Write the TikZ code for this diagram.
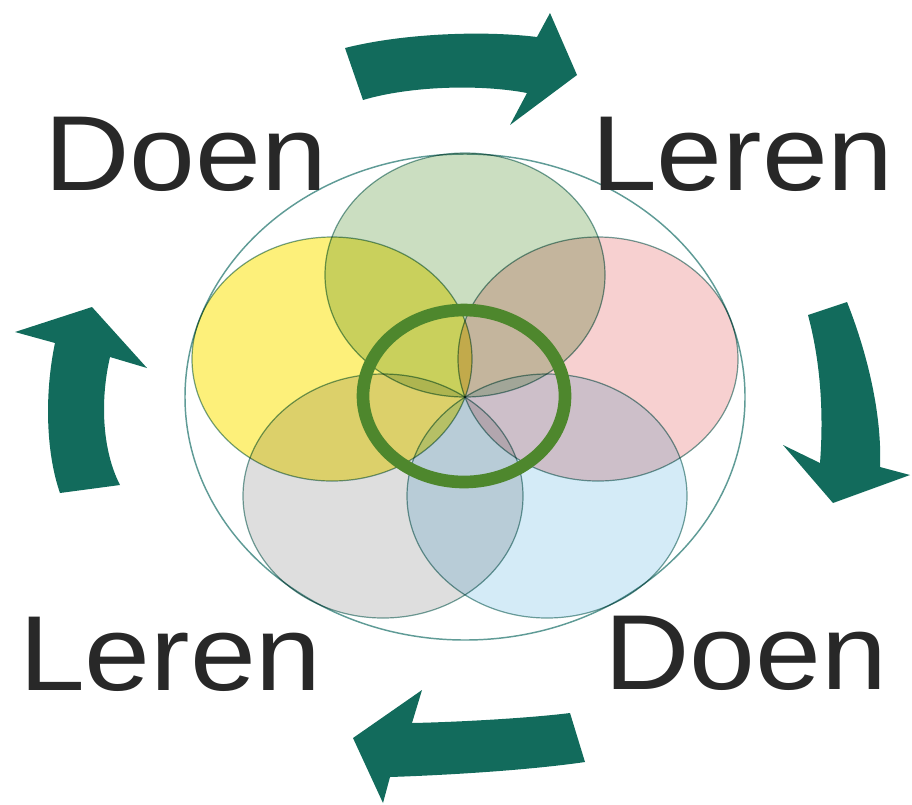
\documentclass[tikz,border=0pt]{standalone}
\usepackage{fontspec}
\setmainfont{Liberation Sans}
\usepackage{graphicx}
\definecolor{arrowteal}{RGB}{18,107,92}
\definecolor{txtgray}{RGB}{40,40,40}
\definecolor{petalline}{RGB}{115,162,156}
\definecolor{outerline}{RGB}{95,155,150}
\definecolor{ringgreen}{RGB}{78,135,45}
\definecolor{pgreen}{RGB}{203,222,193}
\definecolor{pyellow}{RGB}{253,240,122}
\definecolor{ppink}{RGB}{247,208,208}
\definecolor{pgray}{RGB}{222,222,222}
\definecolor{pblue}{RGB}{212,235,247}
\tikzset{
  petal/.style={draw=petalline, line width=0.9pt, blend mode=multiply},
  outerring/.style={draw=outerline, line width=1.1pt},
  centerring/.style={draw=ringgreen, line width=9.5pt},
  cyclearrow/.style={fill=arrowteal, draw=none},
  lbl/.style={anchor=base west, inner sep=0pt, outer sep=0pt, text=txtgray, font=\fontsize{80}{82}\selectfont}
}
\begin{document}
\begin{tikzpicture}[x=0.75pt,y=-0.75pt]
\useasboundingbox (0,0) rectangle (912,804);
% outer thin ellipse
\draw[outerring] (465,397) ellipse [x radius=280, y radius=243];
% five petals
\draw[petal, fill=pgreen]  (465,275) ellipse [x radius=140, y radius=122];
\draw[petal, fill=ppink]   (598,359) ellipse [x radius=140, y radius=122];
\draw[petal, fill=pblue]   (547,496) ellipse [x radius=140, y radius=122];
\draw[petal, fill=pgray]   (383,496) ellipse [x radius=140, y radius=122];
\draw[petal, fill=pyellow] (332,359) ellipse [x radius=140, y radius=122];
% center ring
\draw[centerring] (464,396) ellipse [x radius=101, y radius=86];
% arrows
\fill[cyclearrow] (345,48) .. controls (400,34) and (480,30) .. (537,37) -- (550,13) -- (577,75) -- (510,125) -- (527,93) .. controls (480,84) and (410,86) .. (363,100) -- cycle;
\fill[cyclearrow] (808,315) -- (847,302) .. controls (870,360) and (882,420) .. (880,467) -- (910,475) -- (833,503) -- (783,445) -- (820,463) .. controls (824,410) and (820,360) .. (808,315) -- cycle;
\fill[cyclearrow] (570,713) .. controls (530,718) and (460,722) .. (412,723) -- (422,690) -- (353,738) -- (383,803) -- (390,777) .. controls (450,775) and (530,770) .. (585,762) -- cycle;
\fill[cyclearrow] (60,493) .. controls (45,450) and (45,390) .. (55,343) -- (15,332) -- (92,307) -- (147,368) -- (110,357) .. controls (100,400) and (102,450) .. (120,485) -- cycle;
% labels
\node[lbl] (doenTL)  at (44,190)  {\scalebox{1.11}[1]{Doen}};
\node[lbl] (lerenTR) at (591,190) {\scalebox{1.11}[1]{Leren}};
\node[lbl] (lerenBL) at (19,690)  {\scalebox{1.11}[1]{Leren}};
\node[lbl] (doenBR)  at (604,689) {\scalebox{1.11}[1]{Doen}};
\end{tikzpicture}
\end{document}
